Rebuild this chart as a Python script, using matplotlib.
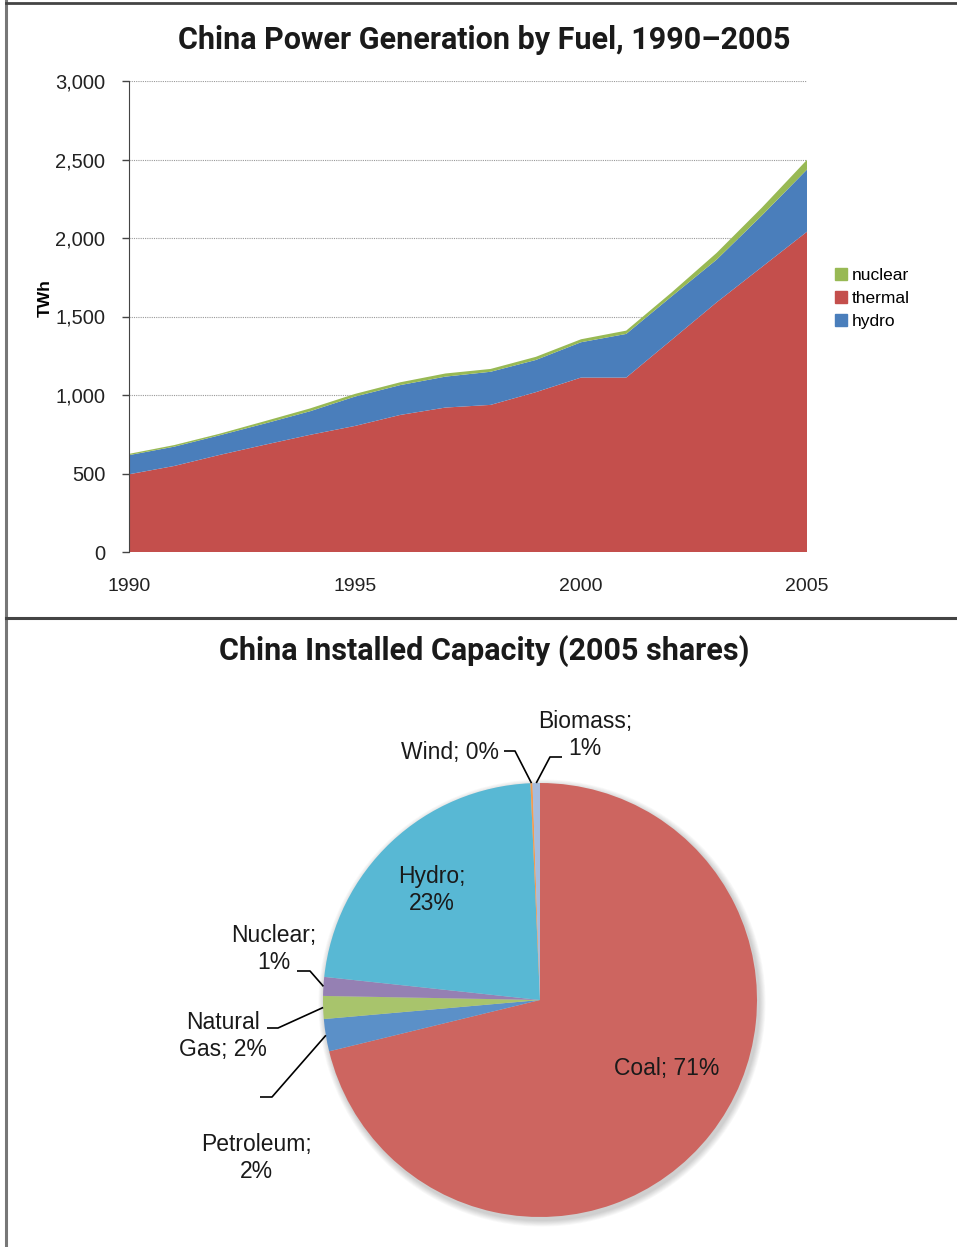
import numpy as np
import matplotlib.pyplot as plt
from matplotlib.patches import Circle, Patch
from matplotlib.lines import Line2D

# generation by fuel, TWh
years = np.arange(1990, 2006)
thermal = [495, 548, 618, 683, 746, 803, 873, 920, 937, 1018, 1111, 1111, 1350, 1590, 1815, 2040]
hydro = [122, 123, 125, 135, 150, 187, 190, 197, 211, 205, 225, 278, 277, 272, 328, 396]
nuclear = [8, 10, 10, 15, 18, 17, 18, 20, 18, 20, 19, 21, 25, 43, 50, 62]

# installed capacity shares, 2005 (%)
cap_names = ['Coal', 'Petroleum', 'Natural Gas', 'Nuclear', 'Hydro', 'Wind', 'Biomass']
cap_share = [71.2, 2.4, 1.7, 1.4, 22.6, 0.15, 0.55]
cap_colors = ['#CD6560', '#5B90C8', '#A8C46C', '#9580B3', '#58B8D4', '#F59B4E', '#A6BCDD']

W, H = 957, 1247
fig = plt.figure(figsize=(W / 100, H / 100), dpi=100)
plt.rcParams['font.family'] = ['Liberation Sans', 'DejaVu Sans']

title_font = dict(family=['Roboto', 'DejaVu Sans'], weight='bold',
                  size=22, color='#1a1a1a')

# ---- frame lines ----
fig.add_artist(Line2D([6 / W, 6 / W], [0, 1], color='#777777', lw=2.2))
fig.add_artist(Line2D([6 / W, 1], [1 - 2.5 / H, 1 - 2.5 / H], color='#444444', lw=2))
fig.add_artist(Line2D([6 / W, 1], [1 - 618 / H, 1 - 618 / H], color='#444444', lw=2.2))

# ---- stacked area ----
ax = fig.add_axes([129 / W, 1 - 552 / H, (807 - 129) / W, (552 - 81) / H])
ax.stackplot(years, thermal, hydro, nuclear,
             colors=['#C44F4C', '#4A7EBB', '#98B954'], linewidth=0)
ax.set_xlim(1990, 2005)
ax.set_ylim(0, 3000)
ax.set_yticks(np.arange(0, 3001, 500))
ax.set_yticklabels([f'{v:,}' for v in range(0, 3001, 500)])
ax.set_xticks([1990, 1995, 2000, 2005])
ax.tick_params(axis='x', length=0, pad=19, labelsize=14, colors='#222222')
ax.tick_params(axis='y', length=5, width=1, color='#444444', pad=12,
               labelsize=14.5, labelcolor='#222222')
ax.grid(axis='y', color='#999999', linestyle=(0, (1, 1)), linewidth=0.8)
ax.set_axisbelow(True)
for side in ['top', 'right', 'bottom']:
    ax.spines[side].set_visible(False)
ax.spines['left'].set_color('#444444')
ax.set_ylabel('TWh', fontsize=12.5, fontweight='bold')
ax.yaxis.set_label_coords(-0.112, 0.539)

handles = [Patch(color='#98B954', label='nuclear'),
           Patch(color='#C44F4C', label='thermal'),
           Patch(color='#4A7EBB', label='hydro')]
fig.legend(handles=handles, loc='upper left', bbox_to_anchor=(828 / W, 1 - 261 / H),
           frameon=False, fontsize=12.5, handlelength=0.7, handleheight=0.7,
           handletextpad=0.25, labelspacing=0.45, borderaxespad=0)

fig.text(484 / W, 1 - 40 / H, 'China Power Generation by Fuel, 1990\u20132005',
         ha='center', va='center', **title_font)

# ---- pie ----
fig.text(484 / W, 1 - 651 / H, 'China Installed Capacity (2005 shares)',
         ha='center', va='center', **title_font)

pax = fig.add_axes([0, 0, 1, 627 / H])
cx, cy, R = 540, 1247 - 1000, 217

# soft shadow behind the pie
for i in range(8):
    pax.add_patch(Circle((cx + 2, cy - 3), R + 1 + i * 0.8, color='#000000',
                         alpha=0.022, lw=0, zorder=0))

wedges, _ = pax.pie(cap_share, colors=cap_colors, startangle=90, counterclock=False,
                    center=(cx, cy), radius=R, wedgeprops=dict(linewidth=0),
                    frame=True)
pax.set_xlim(0, W)
pax.set_ylim(0, 627)
pax.axis('off')

pct = [f'{s:.0f}%' for s in cap_share]
txt = dict(fontsize=16.5, color='#1a1a1a', linespacing=1.22)


def wedge_point(i, frac=1.0):
    w = wedges[i]
    ang = np.deg2rad((w.theta1 + w.theta2) / 2)
    return cx + frac * R * np.cos(ang), cy + frac * R * np.sin(ang)


def py(y):
    return 1247 - y


# labels inside the pie
pax.text(667, py(1068), f'Coal; {pct[0]}', ha='center', va='center', **txt)
pax.text(432, py(890), f'Hydro;\n{pct[4]}', ha='center', va='center', **txt)

# labels outside with leader lines: wedge, text, x, y, align, elbow start, elbow end
outside = [
    (3, f'Nuclear;\n{pct[3]}', 316, 949, 'right', (297, 971), (310, 971)),
    (2, f'Natural\nGas; {pct[2]}', 267, 1036, 'right', (267, 1028), (278, 1028)),
    (1, f'Petroleum;\n{pct[1]}', 256, 1158, 'center', (260, 1097), (272, 1097)),
    (5, f'Wind; {pct[5]}', 499, 752, 'right', (504, 751), (515, 751)),
    (6, f'Biomass;\n{pct[6]}', 585, 735, 'center', (562, 757), (550, 757)),
]
for i, s, tx, ty, ha, p0, p1 in outside:
    pax.text(tx, py(ty), s, ha=ha, va='center', multialignment='center', **txt)
    ex, ey = wedge_point(i, 1.0)
    pax.plot([p0[0], p1[0], ex], [py(p0[1]), py(p1[1]), ey], color='black', lw=1.2,
             solid_capstyle='butt')

fig.savefig('out.png', dpi=100)
